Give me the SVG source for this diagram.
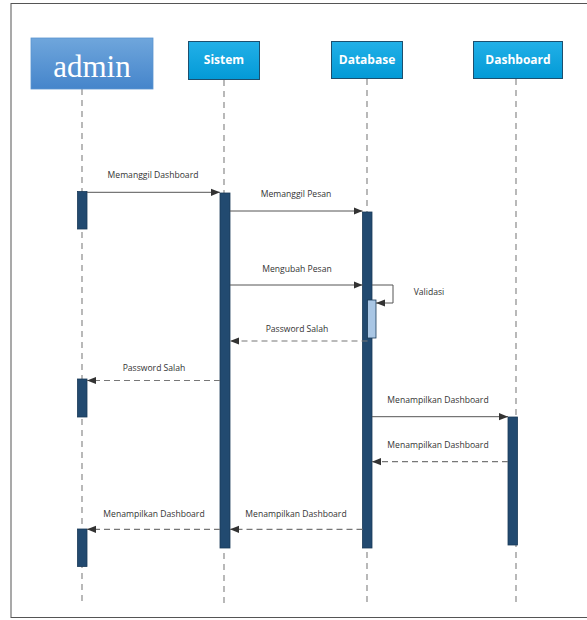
<svg xmlns="http://www.w3.org/2000/svg" width="587" height="620" viewBox="0 0 587 620">
<defs>
  <linearGradient id="gAdmin" x1="0" y1="0" x2="0" y2="1">
    <stop offset="0" stop-color="#6fa6dc"/>
    <stop offset="1" stop-color="#4585cb"/>
  </linearGradient>
  <linearGradient id="gHead" x1="0" y1="0" x2="0" y2="1">
    <stop offset="0" stop-color="#22b0e8"/>
    <stop offset="1" stop-color="#039ad6"/>
  </linearGradient>
  <marker id="ah" viewBox="0 0 10 10" refX="10" refY="5" markerWidth="9" markerHeight="9" markerUnits="userSpaceOnUse" orient="auto">
    <path d="M0,1 L10,5 L0,9 z" fill="#333"/>
  </marker>
</defs>
<style>
  .frame{fill:#fff;stroke:#555;stroke-width:1}
  .life{stroke:#8a8a8a;stroke-width:1.2;stroke-dasharray:6,5;fill:none}
  .head{fill:url(#gHead);stroke:#1d4f6e;stroke-width:1}
  .htxt{font-family:"Open Sans","Noto Sans",sans-serif;font-weight:bold;font-size:12px;fill:#fff;text-anchor:middle}
  .act{fill:#224a70;stroke:#1a3a58;stroke-width:0.8}
  .act2{fill:#a9c6e4;stroke:#1a3a58;stroke-width:0.8}
  .msg{stroke:#555;stroke-width:1;fill:none;marker-end:url(#ah)}
  .ret{stroke:#777;stroke-width:1.2;stroke-dasharray:6,4;fill:none;marker-end:url(#ah)}
  .lbl{font-family:"Open Sans","Noto Sans",sans-serif;font-size:8.6px;fill:#333;text-anchor:middle}
</style>
<rect class="frame" x="11" y="3.5" width="600" height="614"/>

<g id="lifelines">
  <line class="life" x1="82" y1="89" x2="82" y2="606"/>
  <line class="life" x1="224" y1="80" x2="224" y2="606"/>
  <line class="life" x1="367" y1="79" x2="367" y2="606"/>
  <line class="life" x1="516" y1="79" x2="516" y2="606"/>
</g>

<g id="admin">
  <rect x="31" y="38" width="122" height="51" fill="url(#gAdmin)" stroke="#5b95d0" stroke-width="0.8"/>
  <text x="92" y="77" font-family="'Liberation Serif','DejaVu Serif',serif" font-size="31" fill="#fff" text-anchor="middle">admin</text>
</g>
<g id="sistem">
  <rect class="head" x="188.5" y="41.5" width="71" height="38"/>
  <text class="htxt" x="224" y="64">Sistem</text>
</g>
<g id="database">
  <rect class="head" x="331.5" y="41.5" width="71" height="37"/>
  <text class="htxt" x="367" y="64">Database</text>
</g>
<g id="dashboard">
  <rect class="head" x="473.5" y="41.5" width="89" height="37"/>
  <text class="htxt" x="518" y="64">Dashboard</text>
</g>

<g id="activations">
  <rect class="act" x="77.5" y="191.5" width="9.5" height="37.5"/>
  <rect class="act" x="77.5" y="379" width="9.5" height="38"/>
  <rect class="act" x="77.5" y="529" width="9.5" height="37.5"/>
  <rect class="act" x="220" y="193" width="10" height="355"/>
  <rect class="act" x="362.5" y="212" width="9.5" height="336"/>
  <rect class="act2" x="367.5" y="300" width="8.5" height="38"/>
  <rect class="act" x="508" y="417" width="9.5" height="128"/>
</g>

<g id="connectors">
  <line class="msg" x1="87" y1="192.3" x2="220" y2="192.3"/>
  <line class="msg" x1="230" y1="211" x2="362.5" y2="211"/>
  <line class="msg" x1="230" y1="285" x2="362.5" y2="285"/>
  <polyline class="msg" points="372,285 393,285 393,303 376,303"/>
  <line class="ret" x1="367.5" y1="341" x2="230" y2="341"/>
  <line class="ret" x1="220" y1="380.5" x2="87" y2="380.5"/>
  <line class="msg" x1="372" y1="416.7" x2="508" y2="416.7"/>
  <line class="ret" x1="508" y1="461.7" x2="372" y2="461.7"/>
  <line class="ret" x1="362.5" y1="529.3" x2="230" y2="529.3"/>
  <line class="ret" x1="220" y1="529.3" x2="87" y2="529.3"/>
</g>

<g id="labels">
  <text class="lbl" x="153" y="178">Memanggil Dashboard</text>
  <text class="lbl" x="296" y="197">Memanggil Pesan</text>
  <text class="lbl" x="297" y="272">Mengubah Pesan</text>
  <text class="lbl" x="429" y="295">Validasi</text>
  <text class="lbl" x="297" y="331.5">Password Salah</text>
  <text class="lbl" x="154" y="370.5">Password Salah</text>
  <text class="lbl" x="438" y="403">Menampilkan Dashboard</text>
  <text class="lbl" x="438" y="448">Menampilkan Dashboard</text>
  <text class="lbl" x="154" y="516.5">Menampilkan Dashboard</text>
  <text class="lbl" x="296" y="516.5">Menampilkan Dashboard</text>
</g>
</svg>
